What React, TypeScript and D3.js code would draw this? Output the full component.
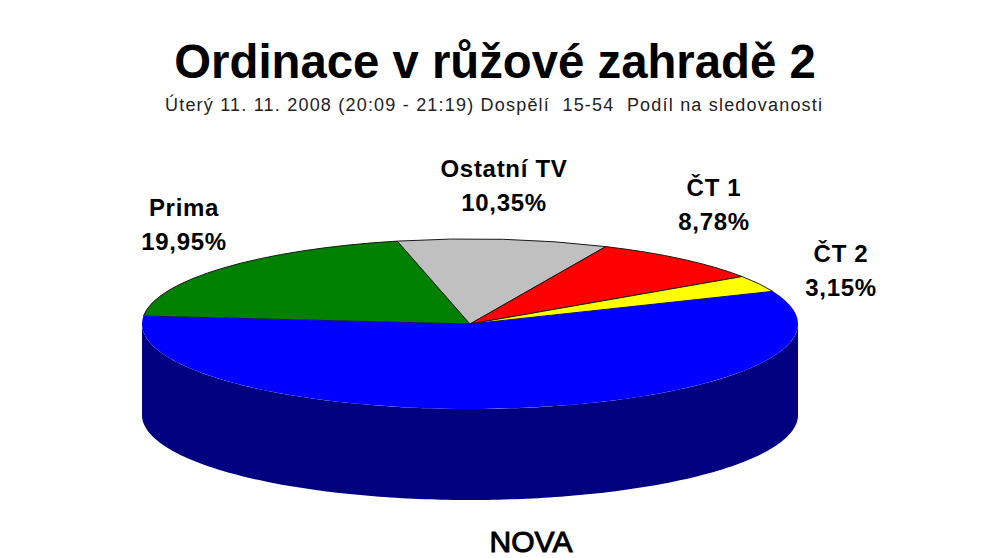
import React from "react";
import * as d3 from "d3";

const categories = ["NOVA", "Prima", "Ostatní TV", "ČT 1", "ČT 2"];
const shares = [57.77, 19.95, 10.35, 8.78, 3.15];
const shareLabels = ["", "19,95%", "10,35%", "8,78%", "3,15%"];
const colors = ["#0000ff", "#008000", "#c0c0c0", "#ff0000", "#ffff00"];
const sideColor = "#000080";
const labelPos: [number, number][] = [[531, 552], [184, 216], [504, 177], [714, 196], [841, 262]];

const cx = 470, cy = 324, rx = 328, ry = 85, depth = 91;
const startAngle = (67.4 * Math.PI) / 180;

export default function App() {
  const pie = d3.pie<number>().sort(null).startAngle(startAngle).endAngle(startAngle + 2 * Math.PI);
  const arcs = pie(shares);
  const arc = d3.arc<d3.PieArcDatum<number>>().innerRadius(0).outerRadius(rx);
  const xs = (a: number) => cx + rx * Math.sin(a);
  const ys = (a: number) => cy - ry * Math.cos(a);
  const wall = d3.range(90, 271, 1).map((d) => (d * Math.PI) / 180);
  const side = d3
    .area<number>()
    .x((a) => xs(a))
    .y0((a) => ys(a))
    .y1((a) => ys(a) + depth)(wall);
  const order = [1, 2, 3, 4, 0];
  return (
    <svg width={991} height={558} style={{ position: "absolute", left: 0, top: 0, background: "#fff" }}>
      <path d={side ?? ""} fill={sideColor} />
      <g transform={`translate(${cx},${cy}) scale(1,${ry / rx})`}>
        {order.map((i) => (
          <path
            key={i}
            d={arc(arcs[i]) ?? ""}
            fill={colors[i]}
            stroke={i === 0 ? "none" : "#1a1a1a"}
            strokeWidth={1}
            vectorEffect="non-scaling-stroke"
          />
        ))}
      </g>
      <text x={495} y={78} textAnchor="middle" fontFamily="Liberation Sans" fontWeight="bold" fontSize={47.3} fill="#000">
        Ordinace v růžové zahradě 2
      </text>
      <text
        x={165}
        y={111}
        fontFamily="Liberation Sans"
        fontSize={18}
        fill="#222"
        textLength={657}
        lengthAdjust="spacing"
        style={{ whiteSpace: "pre" }}
      >
        Úterý 11. 11. 2008 (20:09 - 21:19) Dospělí  15-54  Podíl na sledovanosti
      </text>
      {categories.map((c, i) => (
        <text
          key={c}
          textAnchor="middle"
          fontFamily="Liberation Sans"
          fontWeight={i === 0 ? "normal" : "bold"}
          fontSize={i === 0 ? 30 : 24}
          letterSpacing={i === 0 ? 0 : 0.7}
          stroke={i === 0 ? "#000" : "none"}
          strokeWidth={i === 0 ? 1 : 0}
          fill="#000"
        >
          <tspan x={labelPos[i][0]} y={labelPos[i][1]}>{c}</tspan>
          <tspan x={labelPos[i][0]} dy={34}>{shareLabels[i]}</tspan>
        </text>
      ))}
    </svg>
  );
}
